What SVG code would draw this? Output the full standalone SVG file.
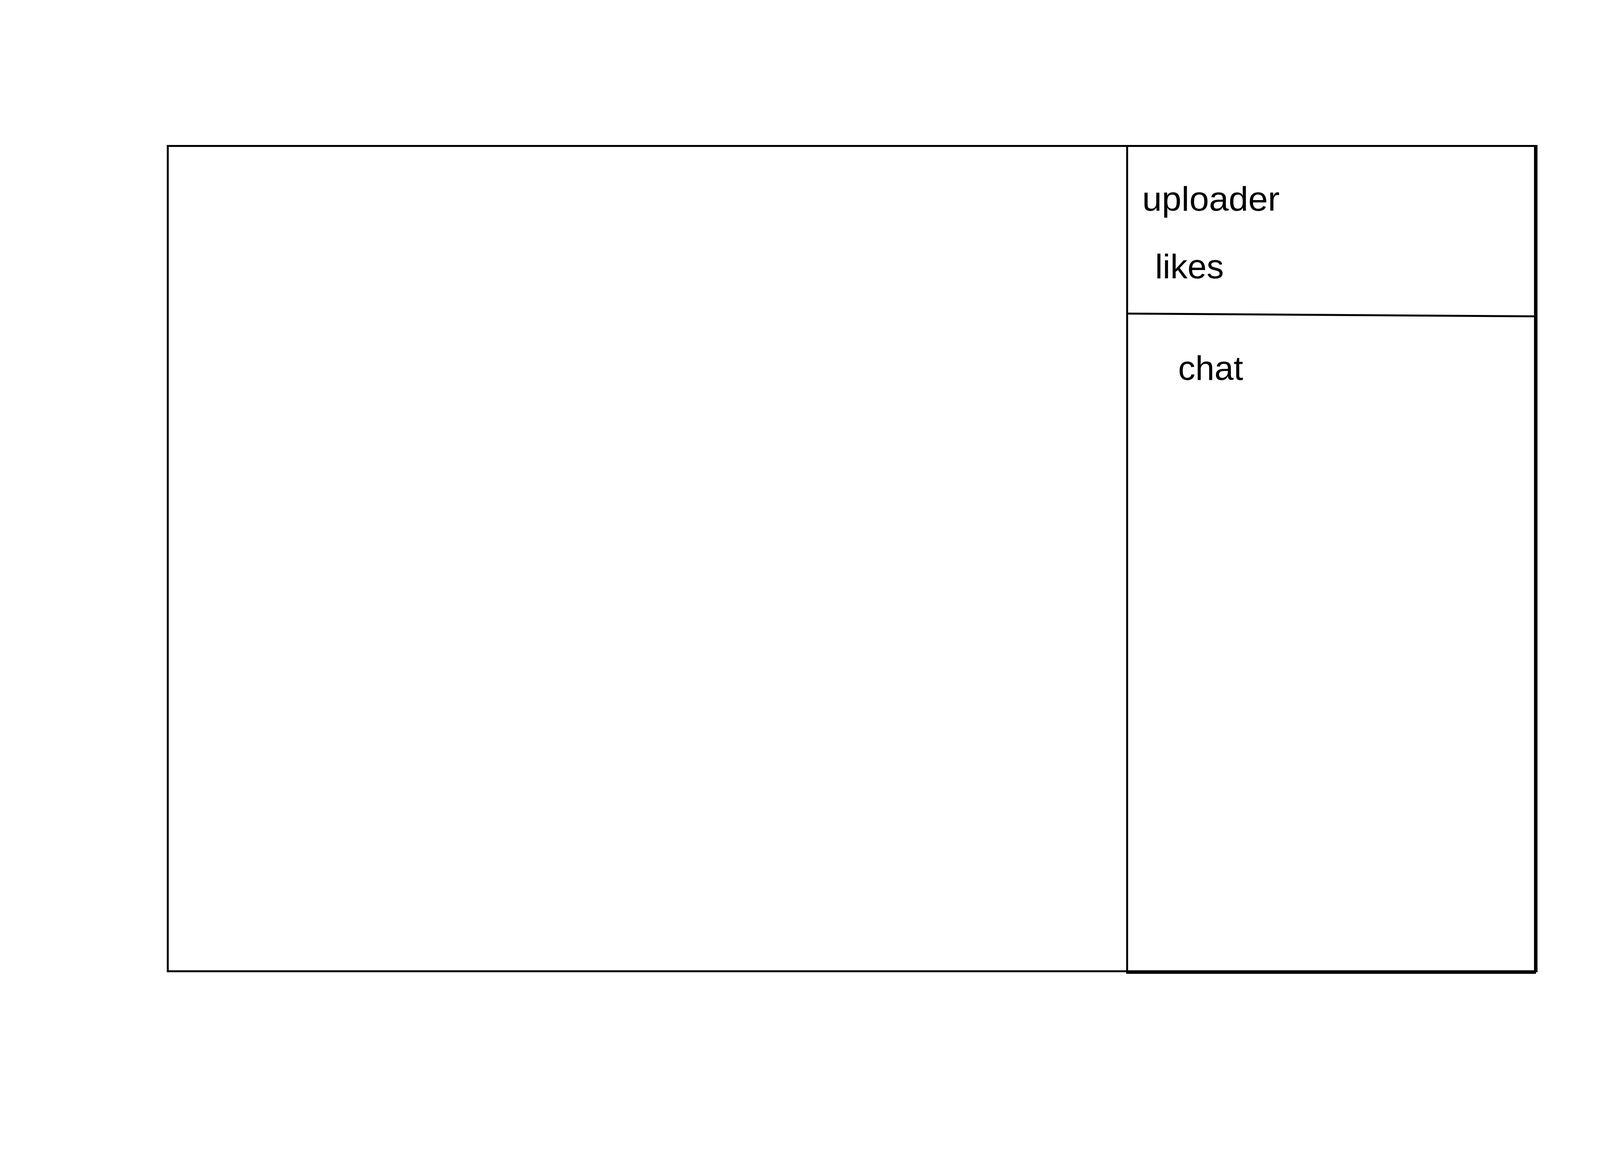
<svg xmlns="http://www.w3.org/2000/svg" width="4464" height="2948" viewBox="0 0 4464 2948">
  <style>
    .ln { stroke: #000; stroke-width: 5; fill: none; stroke-linecap: square; }
    .thick { stroke: #000; stroke-width: 9; fill: none; }
    .lbl { font-family: "Liberation Sans", Arial, sans-serif; font-size: 88px; fill: #000; }
  </style>
  <rect x="0" y="0" width="4464" height="2948" fill="#fff"/>
  <g id="main-panel">
    <line class="ln" x1="429.5" y1="373.5" x2="2885.5" y2="373.5"/>
    <line class="ln" x1="429.5" y1="373.5" x2="429.5" y2="2485.5"/>
    <line class="ln" x1="429.5" y1="2485.5" x2="2885.5" y2="2485.5"/>
    <line class="ln" x1="2885.5" y1="373.5" x2="2885.5" y2="2485.5"/>
  </g>
  <g id="sidebar">
    <line class="ln" x1="2885.5" y1="373.5" x2="3931" y2="373.5"/>
    <line class="thick" x1="3931.5" y1="371" x2="3931.5" y2="2488"/>
    <line class="thick" x1="2883" y1="2487.5" x2="3932" y2="2487.5"/>
  </g>
  <g id="info-panel">
    <line class="ln" x1="2888" y1="802.5" x2="3927" y2="809.5" style="stroke-linecap:butt"/>
    <text class="lbl" x="2924" y="539" textLength="352" lengthAdjust="spacingAndGlyphs">uploader</text>
    <text class="lbl" x="2957" y="712">likes</text>
  </g>
  <g id="chat-panel">
    <text class="lbl" x="3016" y="972">chat</text>
  </g>
  <g id="connectors"></g>
</svg>
